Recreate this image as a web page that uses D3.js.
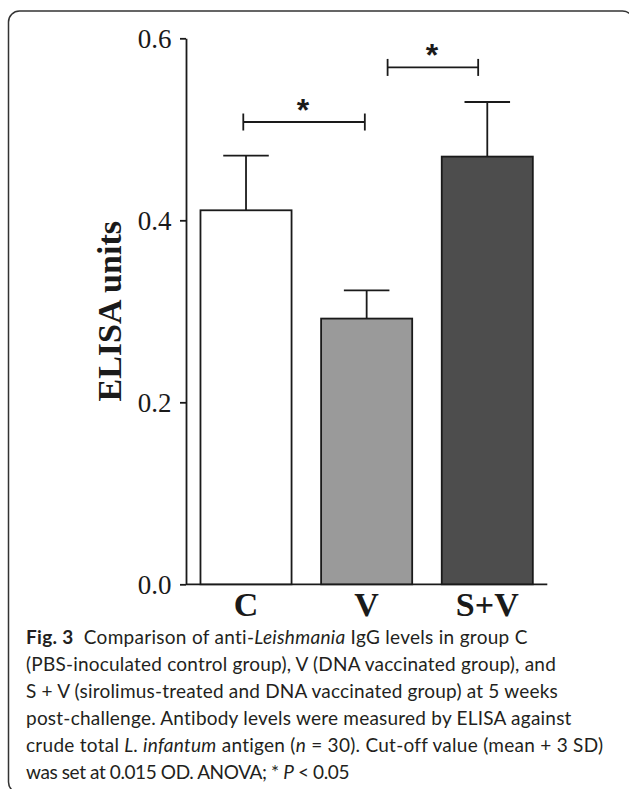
<!DOCTYPE html>
<html>
<head>
<meta charset="utf-8">
<script src="https://cdn.jsdelivr.net/npm/d3@7"></script>
<style>
  html, body { margin: 0; padding: 0; background: #fff; }
</style>
</head>
<body>
<div id="chart"></div>
<script>
// data
const groups = ["C", "V", "S+V"];
const means = [0.411, 0.292, 0.470];
const sds = [0.060, 0.031, 0.060];
const barColors = ["#ffffff", "#9a9a9a", "#4d4d4d"];
const yTicks = [0.0, 0.2, 0.4, 0.6];
// significance brackets: [from, to, level]
const sigFrom = ["C", "V"];
const sigTo = ["V", "S+V"];
const sigLevel = [0.508, 0.568];
const sigMark = ["*", "*"];

// caption lines, each a list of [text, style]
const caption = [
  [["Fig. 3", "b"], ["\u00a0 Comparison of anti-", ""], ["Leishmania", "i"], [" IgG levels in group C", ""]],
  [["(PBS-inoculated control group), V (DNA vaccinated group), and", ""]],
  [["S + V (sirolimus-treated and DNA vaccinated group) at 5 weeks", ""]],
  [["post-challenge. Antibody levels were measured by ELISA against", ""]],
  [["crude total ", ""], ["L. infantum", "i"], [" antigen (", ""], ["n", "i"], [" = 30). Cut-off value (mean + 3 SD)", ""]],
  [["was set at 0.015 OD. ANOVA; * ", ""], ["P", "i"], [" < 0.05", ""]]
];
const captionWidths = [502, 530, 532, 546, 577, 323];

const width = 629;
const height = 789;

const svg = d3.select("#chart")
    .append("svg")
    .attr("width", width)
    .attr("height", height);

// frame
svg.append("rect")
    .attr("x", 8.5)
    .attr("y", 11)
    .attr("width", 625)
    .attr("height", 782)
    .attr("rx", 11)
    .attr("fill", "none")
    .attr("stroke", "#333")
    .attr("stroke-width", 1.5);

const x = d3.scaleBand()
    .domain(groups)
    .range([186, 547.3])
    .paddingInner(0.245)
    .paddingOuter(0.12);

const y = d3.scaleLinear()
    .domain([0, 0.6])
    .range([584.3, 38.3]);

const serif = "'Liberation Serif', 'Times New Roman', serif";
const ink = "#1a1a1a";

// y axis
const yAxis = svg.append("g")
    .attr("transform", "translate(186,0)")
    .call(d3.axisLeft(y).tickValues(yTicks).tickFormat(d3.format(".1f")).tickSize(6).tickSizeOuter(0));
yAxis.select(".domain").attr("stroke", ink).attr("stroke-width", 1.8);
yAxis.selectAll(".tick line").attr("stroke", ink).attr("stroke-width", 1.8);
yAxis.selectAll(".tick text")
    .attr("x", -14.5)
    .attr("dy", "0.35em")
    .attr("font-family", serif)
    .attr("font-size", 27)
    .attr("fill", ink);

// x axis
const xAxis = svg.append("g")
    .attr("transform", `translate(0,${y(0)})`)
    .call(d3.axisBottom(x).tickSize(0).tickSizeOuter(0));
xAxis.select(".domain")
    .attr("d", `M186,0H547.3`)
    .attr("stroke", ink)
    .attr("stroke-width", 1.8);
xAxis.selectAll(".tick text")
    .attr("y", 32)
    .attr("dy", 0)
    .attr("font-family", serif)
    .attr("font-weight", "bold")
    .attr("font-size", 34)
    .attr("fill", ink);

// y label
svg.append("text")
    .attr("transform", `translate(121,${(y(0) + y(0.6)) / 2}) rotate(-90)`)
    .attr("text-anchor", "middle")
    .attr("font-family", serif)
    .attr("font-weight", "bold")
    .attr("font-size", 34)
    .attr("fill", ink)
    .text("ELISA units");

// error bars (upper only)
const err = svg.append("g").attr("stroke", ink).attr("stroke-width", 1.8);
groups.forEach((g, i) => {
    const cx = x(g) + x.bandwidth() / 2;
    err.append("line")
        .attr("x1", cx).attr("x2", cx)
        .attr("y1", y(means[i])).attr("y2", y(means[i] + sds[i]));
    err.append("line")
        .attr("x1", cx - x.bandwidth() / 4).attr("x2", cx + x.bandwidth() / 4)
        .attr("y1", y(means[i] + sds[i])).attr("y2", y(means[i] + sds[i]));
});

// bars
svg.append("g")
    .selectAll("rect")
    .data(groups)
    .join("rect")
    .attr("x", d => x(d))
    .attr("y", (d, i) => y(means[i]))
    .attr("width", x.bandwidth())
    .attr("height", (d, i) => y(0) - y(means[i]))
    .attr("fill", (d, i) => barColors[i])
    .attr("stroke", ink)
    .attr("stroke-width", 1.8);

// significance brackets
const bw = x.bandwidth();
const startFrac = [0.47, 0.73];
const endFrac = [0.48, 0.40];
sigFrom.forEach((g, i) => {
    const x1 = x(g) + bw * startFrac[i];
    const x2 = x(sigTo[i]) + bw * endFrac[i];
    const yy = y(sigLevel[i]);
    const br = svg.append("g").attr("stroke", ink).attr("stroke-width", 1.8);
    br.append("line").attr("x1", x1).attr("x2", x2).attr("y1", yy).attr("y2", yy);
    br.append("line").attr("x1", x1).attr("x2", x1).attr("y1", yy - 8.5).attr("y2", yy + 8.5);
    br.append("line").attr("x1", x2).attr("x2", x2).attr("y1", yy - 8.5).attr("y2", yy + 8.5);
    svg.append("text")
        .attr("x", (x1 + x2) / 2 - 1)
        .attr("y", yy - 1)
        .attr("text-anchor", "middle")
        .attr("font-family", "'Liberation Sans', Arial, sans-serif")
        .attr("font-weight", "bold")
        .attr("font-size", 32)
        .attr("fill", ink)
        .text(sigMark[i]);
});

// caption: spread letters so each line ends where the printed one does
const cap = svg.append("g")
    .attr("font-family", "Lato, 'Open Sans', sans-serif")
    .attr("font-size", 19)
    .attr("fill", "#231f20");
caption.forEach((line, i) => {
    const t = cap.append("text")
        .attr("x", 26)
        .attr("y", 644 + i * 27);
    line.forEach(([s, st]) => {
        t.append("tspan")
            .attr("font-weight", st === "b" ? "bold" : null)
            .attr("font-style", st === "i" ? "italic" : null)
            .text(s);
    });
    const natural = t.node().getComputedTextLength();
    const chars = line.map(d => d[0]).join("").length;
    t.attr("letter-spacing", (captionWidths[i] - natural) / chars);
});
</script>
</body>
</html>
